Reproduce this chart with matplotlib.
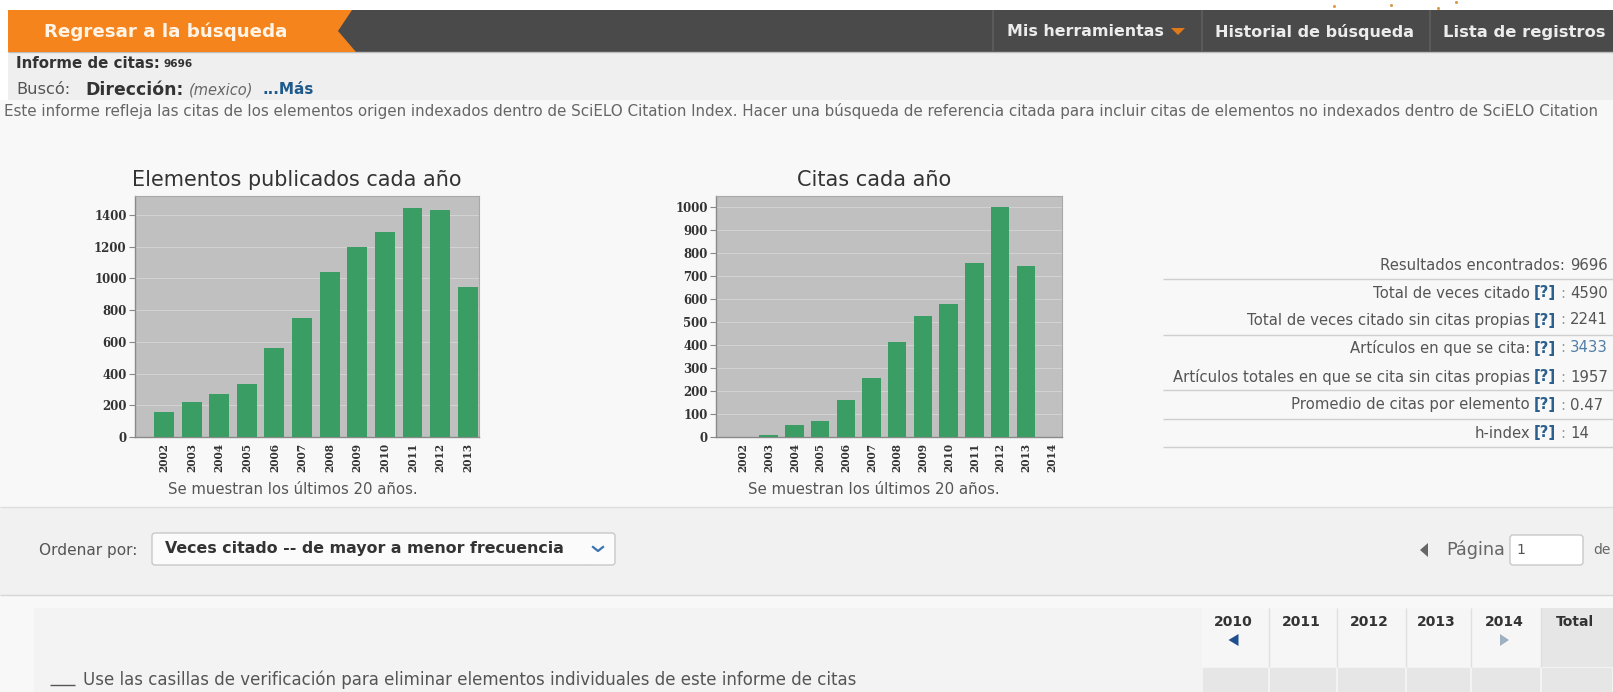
import matplotlib
matplotlib.use("Agg")
import matplotlib.pyplot as plt
from matplotlib.patches import Rectangle, Polygon, FancyBboxPatch

# ---------------- data ----------------
pub_years = ['2002', '2003', '2004', '2005', '2006', '2007', '2008', '2009', '2010', '2011', '2012', '2013']
pub_counts = [158, 221, 269, 337, 564, 752, 1038, 1196, 1295, 1446, 1432, 943]
pub_yticks = [0, 200, 400, 600, 800, 1000, 1200, 1400]

cit_years = ['2002', '2003', '2004', '2005', '2006', '2007', '2008', '2009', '2010', '2011', '2012', '2013', '2014']
cit_counts = [0, 10, 51, 68, 159, 254, 413, 527, 576, 754, 1000, 741, 0]
cit_yticks = [0, 100, 200, 300, 400, 500, 600, 700, 800, 900, 1000]

summary_labels = ['Resultados encontrados:', 'Total de veces citado', 'Total de veces citado sin citas propias',
                  'Artículos en que se cita:', 'Artículos totales en que se cita sin citas propias',
                  'Promedio de citas por elemento', 'h-index']
summary_help = [False, True, True, True, True, True, True]
summary_values = ['9696', '4590', '2241', '3433', '1957', '0.47', '14']

table_years = ['2010', '2011', '2012', '2013', '2014', 'Total']

W, H = 1613, 692
fig = plt.figure(figsize=(W / 100, H / 100), dpi=100)
fig.patch.set_facecolor('#f7f7f7')
bg = fig.add_axes([0, 0, 1, 1], zorder=0)
bg.set_xlim(0, W)
bg.set_ylim(H, 0)
bg.axis('off')
R = fig.canvas.get_renderer()

UI = 'DejaVu Sans'

def rect(x0, y0, x1, y1, fc, ec='none', lw=0, z=1):
    bg.add_patch(Rectangle((x0, y0), x1 - x0, y1 - y0, facecolor=fc, edgecolor=ec, linewidth=lw, zorder=z))

def hline(y, x0, x1, c='#d8d8d8', lw=1.0):
    bg.plot([x0, x1], [y, y], color=c, linewidth=lw, zorder=2, solid_capstyle='butt')

def vline(x, y0, y1, c='#d8d8d8', lw=1.0):
    bg.plot([x, x], [y0, y1], color=c, linewidth=lw, zorder=2, solid_capstyle='butt')

def fit(x0, x1, y, s, size0=10, **kw):
    t = bg.text(x0, y, s, fontsize=size0, va='center', ha='left', zorder=5, **kw)
    w = t.get_window_extent(R).width
    t.set_fontsize(size0 * (x1 - x0) / w)
    return t

def runs(x, y, parts, ha='left', gap=4):
    objs, widths = [], []
    for s, kw in parts:
        t = bg.text(0, y, s, va='center', ha='left', zorder=5, **kw)
        objs.append(t)
        widths.append(t.get_window_extent(R).width)
    total = sum(widths) + gap * (len(parts) - 1)
    cx = x if ha == 'left' else (x - total if ha == 'right' else x - total / 2)
    for t, w in zip(objs, widths):
        t.set_x(cx)
        cx += w + gap
    return objs

# ---------------- page backgrounds ----------------
rect(0, 0, W, 10, '#ffffff')
rect(0, 52, W, 100, '#efefef')
rect(0, 10, 8, 100, '#ffffff')
rect(0, 100, W, 507, '#f8f8f8')
rect(0, 507, W, 595, '#f1f1f1')
rect(0, 595, W, H, '#f8f8f8')
rect(34, 608, W, H, '#f3f3f3')
hline(507, 0, W, '#dedede')
hline(595, 0, W, '#d6d6d6')

# logo fragments in the top strip
for lx, ly in [(1334, 6), (1391, 5), (1438, 8), (1456, 2)]:
    bg.plot([lx], [ly], marker='o', markersize=2.2, color='#d99a4a', zorder=3, markeredgewidth=0)

# ---------------- navigation bar ----------------
rect(8, 10, W, 52, '#4a4a4a')
hline(52, 8, W, '#bdbdbd', 1.0)
bg.add_patch(Polygon([(8, 10), (352, 10), (338, 31), (356, 52), (8, 52)], closed=True,
                     facecolor='#f6841c', edgecolor='none', zorder=2))
fit(44, 288, 32, 'Regresar a la búsqueda', color='#fff4e6', fontweight='bold', family=UI)
for sx in [993, 1202, 1430]:
    vline(sx, 10, 52, '#5e5e5e', 1.2)
fit(1007, 1163, 32, 'Mis herramientas', color='#ececec', fontweight='bold', family=UI)
bg.add_patch(Polygon([(1171, 28), (1185, 28), (1178, 35)], closed=True, facecolor='#e07a18', edgecolor='none', zorder=3))
fit(1215, 1414, 32, 'Historial de búsqueda', color='#ececec', fontweight='bold', family=UI)
fit(1443, 1605, 32, 'Lista de registros', color='#ececec', fontweight='bold', family=UI)

# ---------------- header texts ----------------
fit(16, 160, 63, 'Informe de citas:', color='#333333', fontweight='bold', family=UI)
fit(164, 193, 64, '9696', color='#333333', fontweight='bold', family=UI)
fit(16, 70, 90, 'Buscó:', color='#555555', family=UI)
fit(85, 183, 90, 'Dirección:', color='#333333', fontweight='bold', family=UI)
fit(189, 253, 90, '(mexico)', color='#666666', style='italic', family=UI)
fit(263, 315, 90, '...Más', color='#1f5a8c', fontweight='bold', family=UI)
fit(4, 1604, 111,
    'Este informe refleja las citas de los elementos origen indexados dentro de SciELO Citation Index. '
    'Hacer una búsqueda de referencia citada para incluir citas de elementos no indexados dentro de SciELO Citation',
    color='#666666', family=UI)

# ---------------- charts ----------------
def px_axes(x0, y0, x1, y1):
    return fig.add_axes([x0 / W, 1 - y1 / H, (x1 - x0) / W, (y1 - y0) / H], zorder=3)

BAR = '#3a9d63'
TICKFONT = 'DejaVu Serif'

def style_chart(ax, cats, vals, yticks, ymax):
    n = len(cats)
    ax.set_facecolor('#c0c0c0')
    ax.bar(range(n), vals, width=0.72, color=BAR, zorder=3)
    ax.set_xlim(-1.05, n - 1 + 0.41)
    ax.set_ylim(0, ymax)
    ax.set_yticks(yticks)
    ax.set_yticklabels([str(v) for v in yticks], fontsize=8.5, fontweight='bold', family=TICKFONT, color='#333333')
    ax.set_xticks(range(n))
    ax.set_xticklabels(cats, rotation=90, fontsize=7.6, fontweight='bold', family=TICKFONT, color='#333333')
    ax.tick_params(axis='x', length=0, pad=4)
    ax.tick_params(axis='y', length=4, width=0.8, color='#888888', pad=2)
    ax.yaxis.grid(True, color='#d2d2d2', linewidth=0.8, zorder=1)
    ax.set_axisbelow(True)
    for side in ['top', 'right']:
        ax.spines[side].set_color('#a8a8a8')
        ax.spines[side].set_linewidth(0.8)
    for side in ['left', 'bottom']:
        ax.spines[side].set_color('#8a8a8a')
        ax.spines[side].set_linewidth(1.0)

ax1 = px_axes(135, 196, 479, 437)
style_chart(ax1, pub_years, pub_counts, pub_yticks, 1520)
ax2 = px_axes(716, 196, 1062, 437)
style_chart(ax2, cit_years, cit_counts, cit_yticks, 1046)

fit(132, 462, 180, 'Elementos publicados cada año', color='#333333', family=UI)
fit(797, 952, 180, 'Citas cada año', color='#333333', family=UI)
fit(168, 415, 490, 'Se muestran los últimos 20 años.', color='#555555', family=UI)
fit(748, 997, 490, 'Se muestran los últimos 20 años.', color='#555555', family=UI)

# ---------------- summary table ----------------
row_y = [266, 293, 320, 348, 377, 405, 433]
line_y = [279, 335, 390, 419, 447]
probe = bg.text(0, 0, 'Artículos totales en que se cita sin citas propias', fontsize=10, family=UI)
pw = probe.get_window_extent(R).width
probe.remove()
sfs = 10 * 356 / pw
for lab, hp, val, y in zip(summary_labels, summary_help, summary_values, row_y):
    parts = [(lab, dict(fontsize=sfs, color='#555555', family=UI))]
    if hp:
        parts.append(('[?]', dict(fontsize=sfs, color='#2b5f8e', fontweight='bold', family=UI)))
        parts.append((':', dict(fontsize=sfs, color='#999999', family=UI)))
    runs(1565, y, parts, ha='right', gap=4)
    vcol = '#4f7ea8' if val == '3433' else '#555555'
    bg.text(1570, y, val, fontsize=sfs, color=vcol, family=UI, va='center', ha='left', zorder=5)
for ly in line_y:
    hline(ly, 1163, W, '#cfcfcf', 1.0)

# ---------------- sort controls ----------------
fit(39, 137, 550, 'Ordenar por:', color='#555555', family=UI)
bg.add_patch(FancyBboxPatch((152, 533), 463, 32, boxstyle='round,pad=0,rounding_size=3',
                            facecolor='#fbfbfb', edgecolor='#c8c8c8', linewidth=1, zorder=3))
vline(584, 533, 565, '#d0d0d0')
fit(165, 566, 549, 'Veces citado -- de mayor a menor frecuencia', color='#333333', fontweight='bold', family=UI)
bg.plot([593, 598, 603], [547, 551, 547], color='#3b73b0', linewidth=1.6, zorder=5)

# pager
bg.add_patch(Polygon([(1428, 543), (1428, 557), (1420, 550)], closed=True, facecolor='#666666', edgecolor='none', zorder=3))
fit(1446, 1505, 550, 'Página', color='#666666', family=UI)
bg.add_patch(FancyBboxPatch((1510, 535), 73, 30, boxstyle='round,pad=0,rounding_size=3',
                            facecolor='#ffffff', edgecolor='#c8c8c8', linewidth=1, zorder=3))
bg.text(1516, 550, '1', fontsize=10, color='#555555', family=UI, va='center', ha='left', zorder=5)
bg.text(1593, 550, 'de', fontsize=10, color='#666666', family=UI, va='center', ha='left', zorder=5)

# ---------------- citation table header ----------------
col_edges = [1202, 1269, 1337, 1406, 1471, 1541, W]
rect(1202, 608, W, 667, '#f6f6f6', z=2)
rect(1541, 608, W, 667, '#e6e6e6', z=2)
for x0, x1 in zip(col_edges[:-1], col_edges[1:]):
    rect(x0 + 1, 668, x1 - 1, H, '#e6e6e6', z=2)
for ex in col_edges[1:-1]:
    vline(ex, 608, 667, '#e0e0e0')
for i, lab in enumerate(table_years):
    cx = (col_edges[i] + col_edges[i + 1]) / 2 - 2
    bg.text(cx, 622, lab, fontsize=10, color='#333333', fontweight='bold', family=UI,
            va='center', ha='center', zorder=5)
c0 = (col_edges[0] + col_edges[1]) / 2 - 2
bg.add_patch(Polygon([(c0 + 5, 634), (c0 + 5, 646), (c0 - 5, 640)], closed=True, facecolor='#1f4f8f', edgecolor='none', zorder=5))
c4 = (col_edges[4] + col_edges[5]) / 2 - 2
bg.add_patch(Polygon([(c4 - 4, 634), (c4 - 4, 646), (c4 + 5, 640)], closed=True, facecolor='#9fb0bf', edgecolor='none', zorder=5))

# bottom text
hline(685, 50, 75, '#555555', 1.0)
fit(83, 859, 680, 'Use las casillas de verificación para eliminar elementos individuales de este informe de citas',
    color='#555555', family=UI)

fig.savefig('out.png', dpi=100, facecolor=fig.get_facecolor())
